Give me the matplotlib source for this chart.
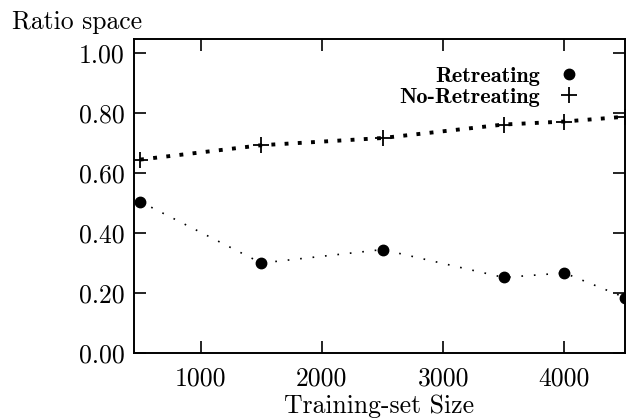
import matplotlib
matplotlib.use("Agg")
import matplotlib.pyplot as plt

training_size = [500, 1500, 2500, 3500, 4000, 4500]
retreating = [0.505, 0.300, 0.345, 0.252, 0.267, 0.185]
no_retreating = [0.645, 0.693, 0.717, 0.762, 0.772, 0.788]
x_ticks = [1000, 2000, 3000, 4000]
x_tick_labels = ["1000", "2000", "3000", "4000"]
y_ticks = [0.0, 0.2, 0.4, 0.6, 0.8, 1.0]
y_tick_labels = ["0.00", "0.20", "0.40", "0.60", "0.80", "1.00"]

plt.rcParams['font.family'] = ['cmr10', 'DejaVu Serif']

fig = plt.figure(figsize=(6.27, 4.2), dpi=100)
ax = fig.add_axes([0.2137, 0.1595, 0.7831, 0.7475])

ax.plot(training_size, no_retreating, color='black', lw=2.8, ls=(0, (1, 2.4)))
ax.plot(training_size, retreating, color='black', lw=1.2, ls=(0, (1, 6.5)))
ax.plot(training_size, retreating, ls='none', marker='o', ms=7.5, color='black',
        label='Retreating')
ax.plot(training_size, no_retreating, ls='none', marker='+', ms=12, mew=1.3,
        color='black', label='No-Retreating')

ax.set_xlim(450, 4500)
ax.set_ylim(0, 1.047)
ax.set_xticks(x_ticks)
ax.set_xticklabels(x_tick_labels)
ax.set_yticks(y_ticks)
ax.set_yticklabels(y_tick_labels)
ax.tick_params(direction='in', length=8.5, width=1.2, top=True, right=True,
               labelsize=18.5)
ax.tick_params(axis='x', pad=10)
ax.tick_params(axis='y', pad=7)
for s in ax.spines.values():
    s.set_linewidth(1.4)

fig.text(0.2137 + 0.7831 / 2, 0.004, 'Training-set Size', fontsize=18.5,
         ha='center', va='bottom')
fig.text(0.019, 0.948, 'Ratio space', fontsize=18.5, va='center', ha='left')

leg = ax.legend(loc='upper right', bbox_to_anchor=(0.908, 0.912), frameon=False,
                markerfirst=False, handletextpad=0.8, labelspacing=0.05,
                handlelength=1.0, borderpad=0, borderaxespad=0,
                prop={'family': 'cmb10', 'size': 16})

fig.savefig('out.png', dpi=100)
